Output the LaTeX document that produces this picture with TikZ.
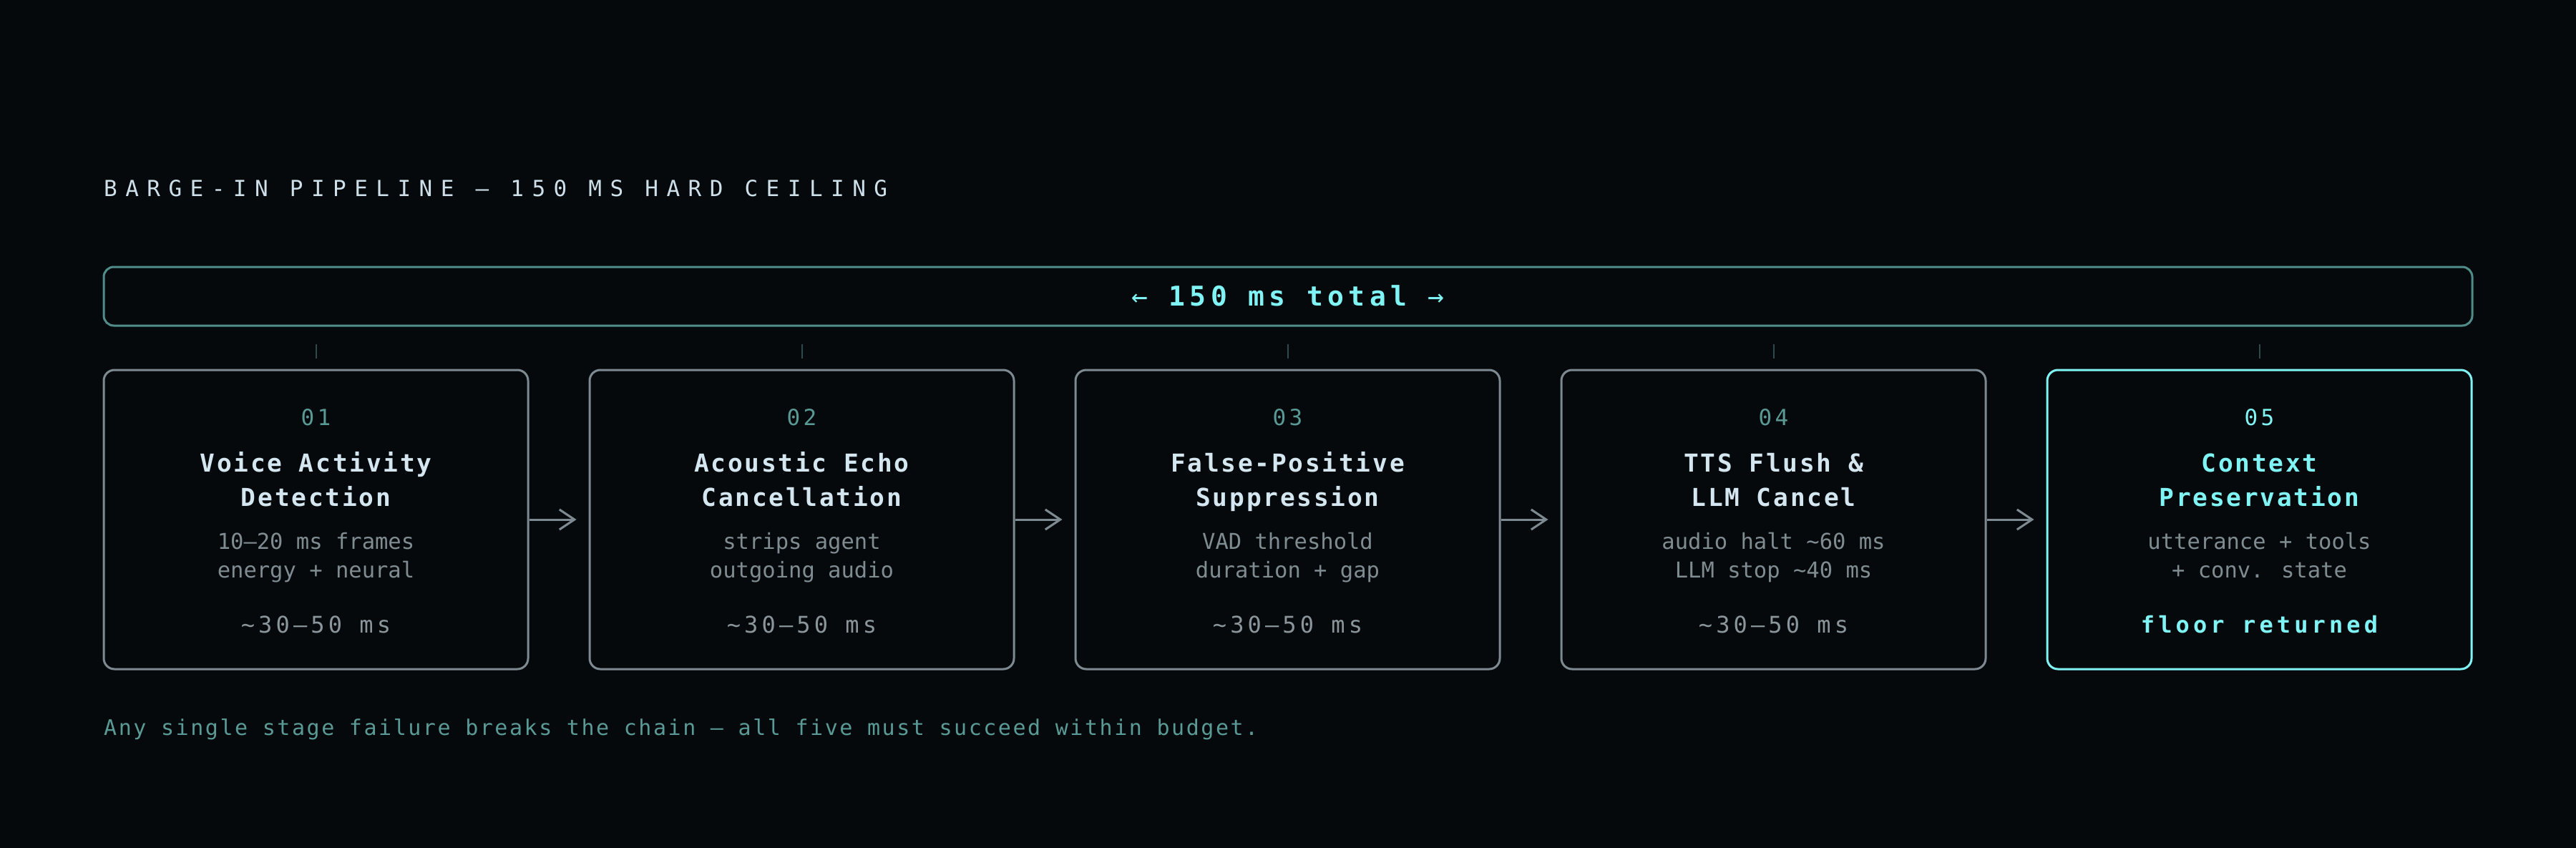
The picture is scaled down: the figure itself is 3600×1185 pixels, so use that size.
\documentclass[tikz,border=0pt]{standalone}
\usepackage{fontspec}
\usetikzlibrary{arrows.meta}
\newfontfamily\titlefont[LetterSpace=37]{DejaVu Sans Mono}
\newfontfamily\numfont[LetterSpace=14]{DejaVu Sans Mono}
\newfontfamily\headfont[LetterSpace=8]{DejaVu Sans Mono}
\newfontfamily\subfont{DejaVu Sans Mono}
\newfontfamily\metfont[LetterSpace=16]{DejaVu Sans Mono}
\newfontfamily\barfont[LetterSpace=17]{DejaVu Sans Mono}
\newfontfamily\notefont[LetterSpace=8.5]{DejaVu Sans Mono}
\definecolor{bg}{HTML}{06090B}
\definecolor{barc}{HTML}{508C8A}
\definecolor{boxc}{HTML}{7D8A91}
\definecolor{cyanc}{HTML}{80F4F4}
\definecolor{titlec}{HTML}{CDE0EA}
\definecolor{headc}{HTML}{D4E6F0}
\definecolor{numc}{HTML}{5A9A96}
\definecolor{subc}{HTML}{7F8C92}
\definecolor{metc}{HTML}{8A969C}
\definecolor{tickc}{HTML}{2E4A4C}
\definecolor{notec}{HTML}{5A9A96}
\tikzset{
 stage-std/.style={draw=boxc, line width=3pt, rounded corners=15pt, minimum width=593pt, minimum height=418pt, inner sep=0pt},
 stage-hl/.style={stage-std, draw=cyanc},
 num-std/.style={text=numc, font=\numfont\fontsize{31}{36}\selectfont, anchor=base, inner sep=0pt},
 num-hl/.style={num-std, text=cyanc},
 head-std/.style={text=headc, font=\headfont\bfseries\fontsize{34.5}{40}\selectfont, anchor=base, inner sep=0pt},
 head-hl/.style={head-std, text=cyanc},
 subtext/.style={text=subc, font=\subfont\fontsize{30.5}{36}\selectfont, anchor=base, inner sep=0pt},
 metric-std/.style={text=metc, font=\metfont\fontsize{32}{36}\selectfont, anchor=base, inner sep=0pt},
 metric-hl/.style={text=cyanc, font=\metfont\bfseries\fontsize{32}{36}\selectfont, anchor=base, inner sep=0pt},
 barbox/.style={draw=barc, line width=3pt, rounded corners=14pt, minimum width=3310pt, minimum height=82pt, inner sep=0pt},
 bartext/.style={text=cyanc, font=\barfont\bfseries\fontsize{38}{44}\selectfont, anchor=base, inner sep=0pt},
 titletext/.style={text=titlec, font=\titlefont\fontsize{31}{36}\selectfont, anchor=base west, inner sep=0pt},
 notetext/.style={text=notec, font=\notefont\fontsize{30}{36}\selectfont, anchor=base west, inner sep=0pt},
 ticker/.style={draw=tickc, line width=2pt},
 flow/.style={draw=boxc, line width=3pt, -{Straight Barb[length=21pt, width=28pt, line width=3pt]}},
}
\newcommand\stagebox[9]{%
 \node[stage-#9] (#1) at (#2,726) {};
 \node[num-#9] (#1num) at (#2,594) {#3};
 \node[head-#9] (#1ta) at (#2,659) {#4};
 \node[head-#9] (#1tb) at (#2,707) {#5};
 \node[subtext] (#1sa) at (#2,767) {#6};
 \node[subtext] (#1sb) at (#2,807) {#7};
 \node[metric-#9] (#1met) at (#2,884) {#8};
 \draw[ticker] ([yshift=15pt]#1.north) -- ([yshift=35pt]#1.north);
}
\begin{document}
\begin{tikzpicture}[x=1pt,y=-1pt]
\fill[bg] (0,0) rectangle (3600,1185);
\useasboundingbox (0,0) rectangle (3600,1185);
\node[titletext] (title) at (145,274) {BARGE-IN PIPELINE — 150 MS HARD CEILING};
\node[barbox] (bar) at (1800,414) {};
\node[bartext] (total) at (1800,427) {{\mdseries ←} 150 ms total {\mdseries →}};
\stagebox{b1}{441.5}{01}{Voice Activity}{Detection}{10–20 ms frames}{energy + neural}{\textasciitilde30–50 ms}{std}
\stagebox{b2}{1120.5}{02}{Acoustic Echo}{Cancellation}{strips agent}{outgoing audio}{\textasciitilde30–50 ms}{std}
\stagebox{b3}{1799.5}{03}{False-Positive}{Suppression}{VAD threshold}{duration + gap}{\textasciitilde30–50 ms}{std}
\stagebox{b4}{2478.5}{04}{TTS Flush \&}{LLM Cancel}{audio halt \textasciitilde60 ms}{LLM stop \textasciitilde40 ms}{\textasciitilde30–50 ms}{std}
\stagebox{b5}{3157.5}{05}{Context}{Preservation}{utterance + tools}{+ conv. state}{floor returned}{hl}
\draw[flow] (b1.east) -- ([xshift=-17pt]b2.west);
\draw[flow] (b2.east) -- ([xshift=-17pt]b3.west);
\draw[flow] (b3.east) -- ([xshift=-17pt]b4.west);
\draw[flow] (b4.east) -- ([xshift=-17pt]b5.west);
\node[notetext] (note) at (145,1027) {Any single stage failure breaks the chain — all five must succeed within budget.};
\end{tikzpicture}
\end{document}
